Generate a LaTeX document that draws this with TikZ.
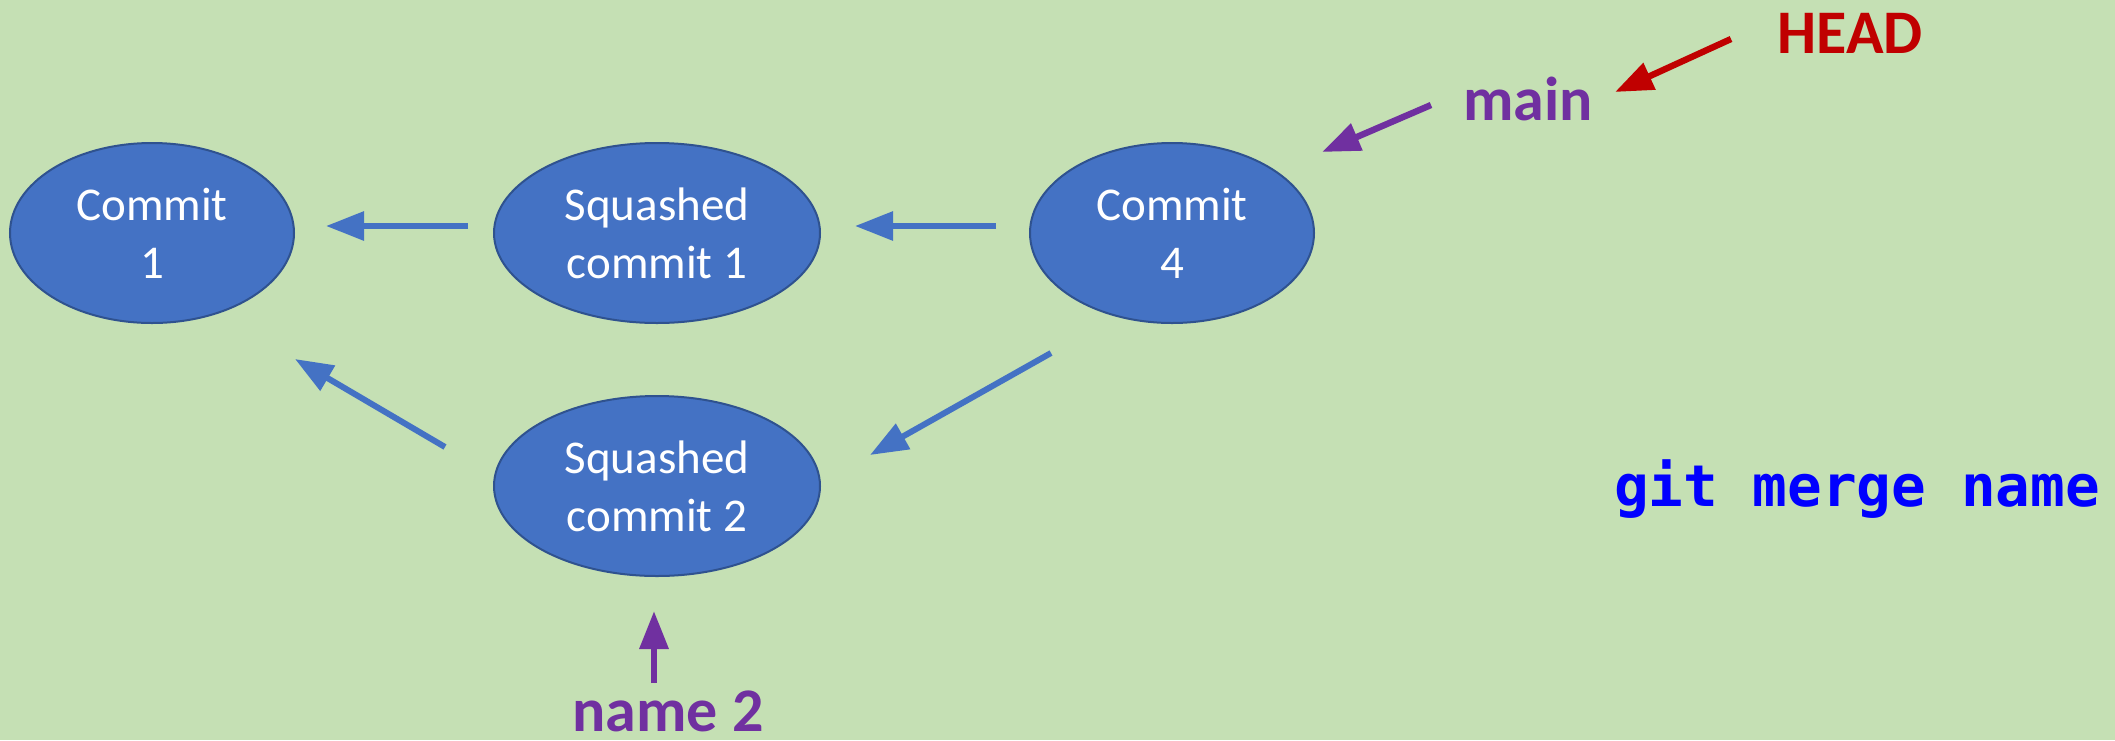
\documentclass[tikz,border=0pt]{standalone}
\usepackage{fontspec}
\setmainfont{Carlito}
\newfontfamily\codefont{DejaVu Sans Mono}
\usetikzlibrary{shapes.geometric,arrows.meta}
\definecolor{bggreen}{HTML}{C5E0B4}
\definecolor{nodeblue}{HTML}{4472C4}
\definecolor{nodeedge}{HTML}{2F528F}
\definecolor{refpurple}{HTML}{7030A0}
\definecolor{headred}{HTML}{C00000}
\definecolor{cmdblue}{HTML}{0000FF}
\begin{document}
\begin{tikzpicture}[x=0.5pt,y=-0.5pt,
  commit/.style={ellipse,draw=nodeedge,line width=1pt,fill=nodeblue,text=white,
    inner sep=0pt,align=center,font=\fontsize{23.5}{29}\selectfont},
  small/.style={minimum width=142pt,minimum height=90pt},
  wide/.style={minimum width=163pt,minimum height=90pt},
  parent/.style={draw=nodeblue,line width=3pt,-{Triangle[length=19pt,width=14pt]}},
  refarrow/.style={line width=3.2pt,-{Triangle[length=19pt,width=14pt]}},
  reflabel/.style={font=\fontsize{31}{37}\selectfont\bfseries,anchor=base,inner sep=0pt}]
% canvas
\fill[bggreen] (0,0) rectangle (2115,740);
\useasboundingbox (0,0) rectangle (2115,740);

% commits
\node[commit,small] (c1) at (152,233) {Commit\\1};
\node[commit,wide]  (s1) at (657,233) {Squashed\\commit 1};
\node[commit,small] (c4) at (1172,233) {Commit\\4};
\node[commit,wide]  (s2) at (657,486) {Squashed\\commit 2};

% labels
\node[reflabel,text=headred]    (head)  at (1850,53)  {HEAD};
\node[reflabel,text=refpurple]  (main)  at (1528,120) {main};
\node[reflabel,text=refpurple]  (name2) at (668,731)  {name 2};
\node[font=\fontsize{28.8}{34}\selectfont\codefont\bfseries,text=cmdblue,anchor=base,inner sep=0pt]
  (cmd) at (1857,506) {git merge name};

% arrow end points
\coordinate (s1c1a) at (468,226); \coordinate (s1c1b) at (326,226);
\coordinate (c4s1a) at (996,226); \coordinate (c4s1b) at (855,226);
\coordinate (s2c1a) at (445,447); \coordinate (s2c1b) at (295,359);
\coordinate (c4s2a) at (1051,353); \coordinate (c4s2b) at (870,455);
\coordinate (maina) at (1431,105); \coordinate (mainb) at (1322,152);
\coordinate (heada) at (1731,39);  \coordinate (headb) at (1615,92);
\coordinate (n2a)   at (654,683);  \coordinate (n2b)   at (654,611);

% parent links
\draw[parent] (s1c1a) -- (s1c1b);
\draw[parent] (c4s1a) -- (c4s1b);
\draw[parent] (s2c1a) -- (s2c1b);
\draw[parent] (c4s2a) -- (c4s2b);

% references
\draw[refarrow,draw=refpurple,fill=refpurple] (maina) -- (mainb);
\draw[refarrow,draw=headred,fill=headred] (heada) -- (headb);
\draw[refarrow,draw=refpurple,fill=refpurple] (n2a) -- (n2b);
\end{tikzpicture}
\end{document}
